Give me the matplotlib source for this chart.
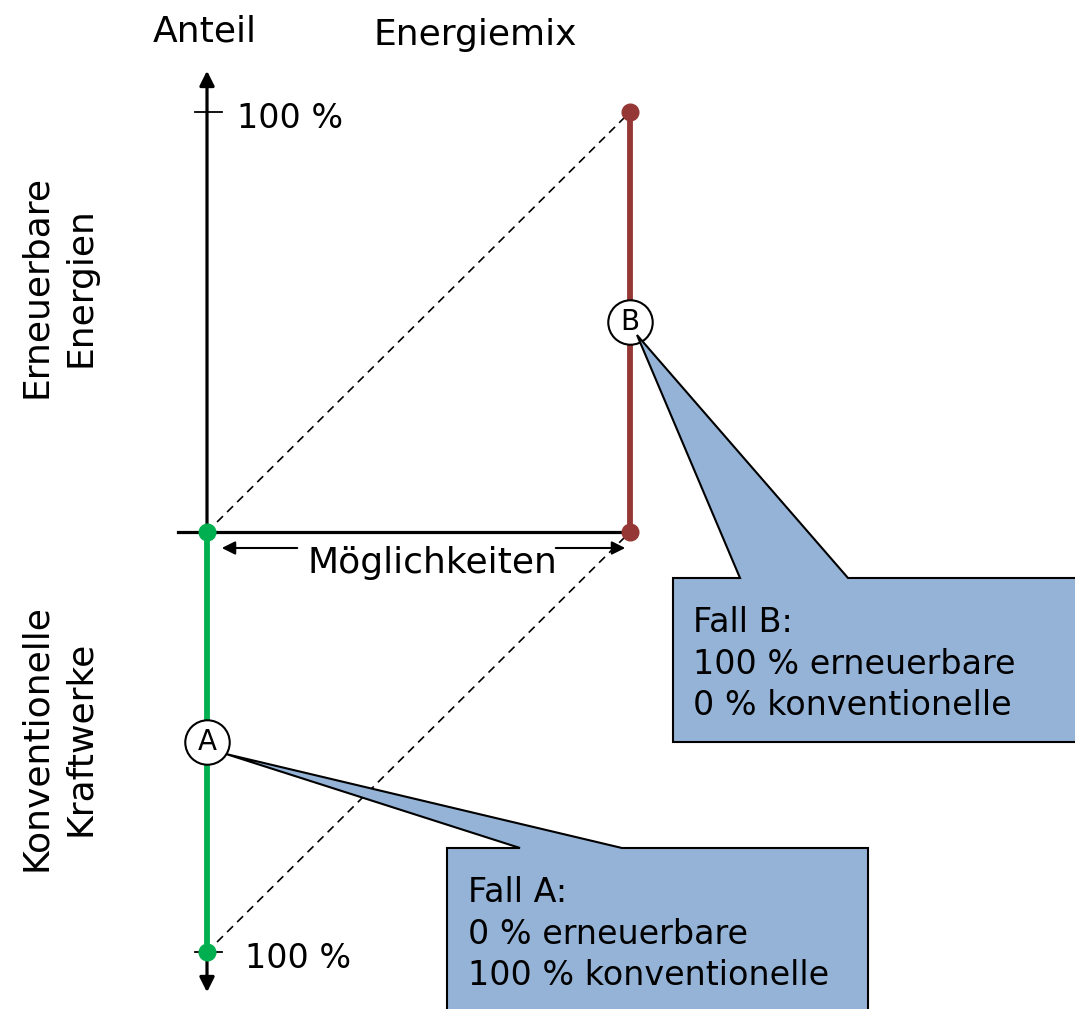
import matplotlib
matplotlib.use("Agg")
import matplotlib.pyplot as plt
from matplotlib.patches import Polygon, FancyArrowPatch

# Daten: Energiemix der beiden Fälle
cases = ["A", "B"]
options = [0, 1]                    # Position auf der Achse "Möglichkeiten"
renewable_share = [0, 100]          # Anteil erneuerbare Energien (%)
conventional_share = [100, 0]       # Anteil konventionelle Kraftwerke (%)
case_texts = ["Fall A:\n0 % erneuerbare\n100 % konventionelle",
              "Fall B:\n100 % erneuerbare\n0 % konventionelle"]

RED = "#953735"
GREEN = "#00B050"
BOX = "#95B3D7"

# Pixel -> Daten (Ursprung bei Pixel 207/532)
X0, Y0, SX, SY = 207, 532, 423, 420
def px(x, y):
    return (x - X0) / SX, (Y0 - y) / SY

fig = plt.figure(figsize=(10.75, 10.09), dpi=100)
ax = fig.add_axes([0, 0, 1, 1])
ax.set_xlim(-X0 / SX, (1075 - X0) / SX)
ax.set_ylim((Y0 - 1009) / SY, Y0 / SY)
ax.axis("off")

top = [r / 100 for r in renewable_share]
bottom = [-c / 100 for c in conventional_share]

# gestrichelte Verbindungen
ax.plot(options, top, ls=(0, (5, 3.5)), color="black", lw=1.2, zorder=2)
ax.plot(options, bottom, ls=(0, (5, 3.5)), color="black", lw=1.2, zorder=2)

# Achsen
ax.add_patch(FancyArrowPatch(px(207, 995), px(207, 68), arrowstyle="<|-|>",
                             mutation_scale=22, lw=2.3, color="black", zorder=3))
ax.plot([px(178, 0)[0], options[1]], [0, 0], color="black", lw=2.3, zorder=3)
for yy in [1, -1]:
    ax.plot([px(195, 0)[0], px(222, 0)[0]], [yy, yy], color="black", lw=1.3, zorder=3)

# Balken der beiden Fälle
ax.plot([options[1], options[1]], [bottom[1], top[1]], color=RED, lw=4.2, zorder=4)
ax.plot([options[0], options[0]], [bottom[0], top[0]], color=GREEN, lw=4.2, zorder=4)
ax.plot([options[1]] * 2, [bottom[1], top[1]], "o", color=RED, ms=12, zorder=5)
ax.plot([options[0]] * 2, [bottom[0], top[0]], "o", color=GREEN, ms=12, zorder=5)

# Markierungen A / B in der Mitte
for i, c in enumerate(cases):
    ym = (top[i] + bottom[i]) / 2
    ax.plot(options[i], ym, "o", ms=32, mfc="white", mec="black", mew=1.5, zorder=6)
    ax.text(options[i], ym, c, ha="center", va="center", fontsize=20, zorder=7)

# Sprechblasen
callout_px = {
    "B": [(673, 578), (740, 578), (637, 335), (848, 578), (1085, 578),
          (1085, 742), (673, 742)],
    "A": [(447, 848), (520, 848), (226, 754), (622, 848), (868, 848),
          (868, 1020), (447, 1020)],
}
text_px = {"A": (468, 934), "B": (693, 664)}
for i, c in enumerate(cases):
    poly = Polygon([px(*p) for p in callout_px[c]], closed=True, fc=BOX,
                   ec="black", lw=1.5, zorder=8)
    ax.add_patch(poly)
    tx, ty = px(*text_px[c])
    ax.text(tx, ty, case_texts[i], ha="left", va="center", fontsize=24,
            linespacing=1.32, zorder=9)

# Möglichkeiten-Pfeile
for a, b in [((300, 548), (219, 548)), ((553, 548), (628, 548))]:
    ax.add_patch(FancyArrowPatch(px(*a), px(*b), arrowstyle="-|>",
                                 mutation_scale=20, lw=1.5, color="black", zorder=3))
ax.text(*px(432, 563), "Möglichkeiten", ha="center", va="center", fontsize=26)

# Beschriftungen
ax.text(*px(205, 32), "Anteil", ha="center", va="center", fontsize=26)
ax.text(*px(475, 35), "Energiemix", ha="center", va="center", fontsize=26)
ax.text(*px(237, 118), "100 %", ha="left", va="center", fontsize=24)
ax.text(*px(245, 958), "100 %", ha="left", va="center", fontsize=24)
ax.text(*px(58, 287), "Erneuerbare\nEnergien", ha="center", va="center",
        rotation=90, fontsize=26, linespacing=1.4)
ax.text(*px(58, 738), "Konventionelle\nKraftwerke", ha="center", va="center",
        rotation=90, fontsize=26, linespacing=1.4)

fig.savefig("out.png", dpi=100)
